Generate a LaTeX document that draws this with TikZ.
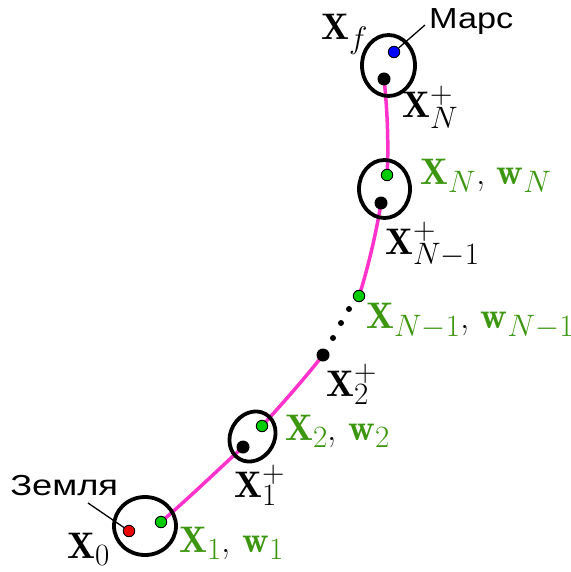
\RequirePackage{fix-cm}
\documentclass[tikz,border=0pt]{standalone}
\usepackage{fontspec}
\newfontfamily\labelsans{Liberation Sans}
\usetikzlibrary{shapes.geometric}
\DeclareMathSizes{37}{37}{31}{25}
\definecolor{trajpink}{RGB}{255,51,204}
\definecolor{lblgreen}{RGB}{60,150,15}
\definecolor{dotgreen}{RGB}{0,204,0}
\definecolor{dotred}{RGB}{235,0,0}
\definecolor{dotblue}{RGB}{0,0,255}
\begin{document}
\begin{tikzpicture}[x=1pt,y=-1pt,
  zone/.style={ellipse, draw=black, line width=3.8pt, inner sep=0pt},
  arc/.style={draw=trajpink, line width=3.5pt},
  dot/.style={circle, draw=black, line width=0.9pt, minimum size=11.5pt, inner sep=0pt},
  bdot/.style={circle, fill=black, minimum size=13pt, inner sep=0pt},
  sdot/.style={circle, fill=black, minimum size=6pt, inner sep=0pt},
  lbl/.style={font=\fontsize{37}{42}\selectfont, inner sep=0pt, anchor=base west},
  place/.style={font=\labelsans\fontsize{29}{33}\selectfont, xscale=1.18, inner sep=0pt, anchor=base west},
  lead/.style={draw=black, line width=1.3pt}]

\useasboundingbox (0,0) rectangle (570,572);

% state positions
\coordinate (p0) at (129,531);
\coordinate (p1) at (161,522);
\coordinate (p1p) at (243,447);
\coordinate (p2) at (262,426);
\coordinate (p2p) at (323,355);
\coordinate (pm) at (359,296);
\coordinate (pmp) at (381,203);
\coordinate (pN) at (387,175);
\coordinate (pNp) at (384,79);
\coordinate (pf) at (394,52);

% transfer arcs
\draw[arc] (p1) .. controls (190,497) and (220,468) .. (p1p);
\draw[arc] (p2) .. controls (283,403) and (305,378) .. (p2p);
\draw[arc] (pm) .. controls (366,275) and (376,235) .. (pmp);
\draw[arc] (pN) .. controls (389,145) and (387,105) .. (pNp);

% neighbourhoods
\node[zone, minimum width=62pt, minimum height=58pt] (z0) at (145,526) {};
\node[zone, minimum width=44pt, minimum height=52pt, rotate=-30] (z1) at (252.5,436.5) {};
\node[zone, minimum width=51pt, minimum height=58pt] (zN) at (384.5,189) {};
\node[zone, minimum width=53pt, minimum height=61pt] (zf) at (388.5,65.5) {};

% states
\node[dot, fill=dotred] (x0) at (p0) {};
\node[dot, fill=dotgreen] (x1) at (p1) {};
\node[bdot] (x1p) at (p1p) {};
\node[dot, fill=dotgreen] (x2) at (p2) {};
\node[bdot] (x2p) at (p2p) {};
\node[dot, fill=dotgreen] (xm) at (pm) {};
\node[bdot] (xmp) at (pmp) {};
\node[dot, fill=dotgreen] (xN) at (pN) {};
\node[bdot] (xNp) at (pNp) {};
\node[dot, fill=dotblue] (xf) at (pf) {};

% omitted stages
\node[sdot] (e1) at (333,338) {};
\node[sdot] (e2) at (341,323) {};
\node[sdot] (e3) at (349,309) {};

% planet names with leaders
\node[place, xscale=1.06] (earth) at (10,495) {Земля};
\node[place] (mars) at (429,29) {Марс};
\coordinate (earthlead) at (88,503);
\coordinate (marslead) at (425,25);
\draw[lead] (earthlead) -- (x0);
\draw[lead] (marslead) -- (xf);

% state labels
\node[lbl] (l0) at (67,558) {$\mathbf{X}_0$};
\node[lbl] (l1) at (179,552) {\color{lblgreen}$\mathbf{X}_1$\color{black}, \color{lblgreen}$\mathbf{w}_1$};
\node[lbl] (l1p) at (234,497) {$\mathbf{X}_1^+$};
\node[lbl] (l2) at (285,440) {\color{lblgreen}$\mathbf{X}_2$\color{black}, \color{lblgreen}$\mathbf{w}_2$};
\node[lbl] (l2p) at (326,396) {$\mathbf{X}_2^+$};
\node[lbl] (lm) at (366,328) {\color{lblgreen}$\mathbf{X}_{N-1}$\color{black}, \color{lblgreen}$\mathbf{w}_{N-1}$};
\node[lbl] (lmp) at (385,254) {$\mathbf{X}_{N-1}^+$};
\node[lbl] (lN) at (420,184) {\color{lblgreen}$\mathbf{X}_N$\color{black}, \color{lblgreen}$\mathbf{w}_N$};
\node[lbl] (lNp) at (402,118) {$\mathbf{X}_N^+$};
\node[lbl] (lf) at (321,40) {$\mathbf{X}_f$};
\end{tikzpicture}
\end{document}
